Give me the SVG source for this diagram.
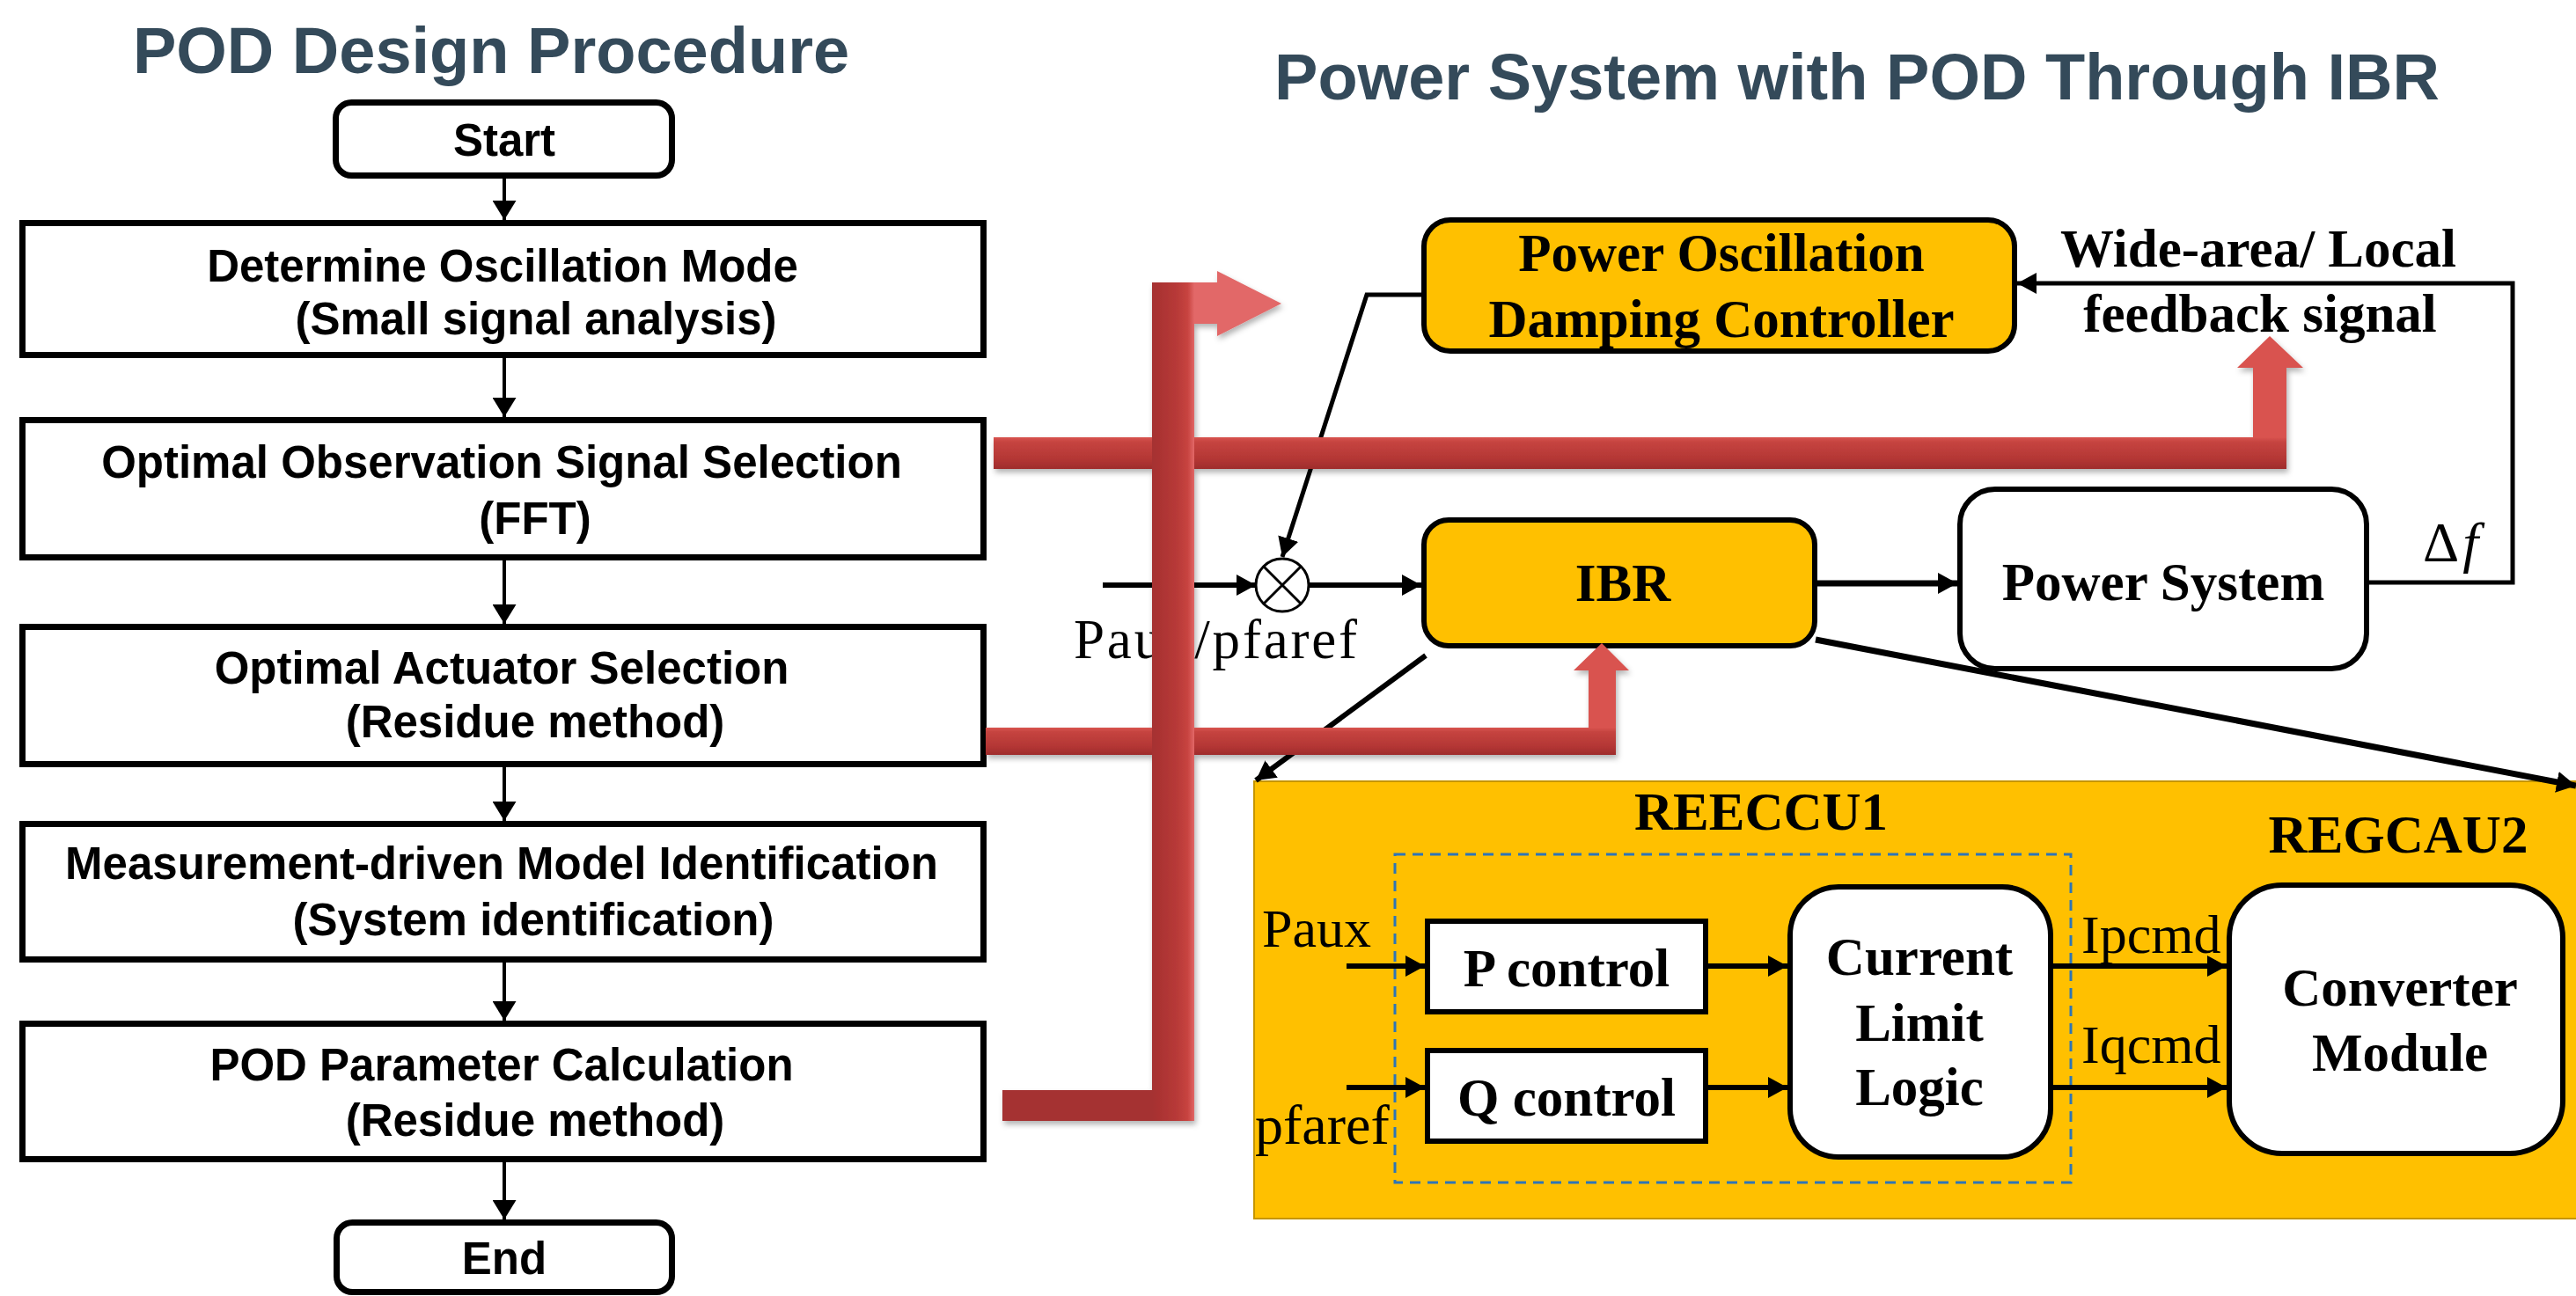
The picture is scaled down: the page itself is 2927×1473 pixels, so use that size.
<svg xmlns="http://www.w3.org/2000/svg" width="2927" height="1473" viewBox="0 0 2927 1473">
<defs>
<style>
.title{font-family:"Liberation Sans",Arial,sans-serif;font-weight:bold;font-size:74px;fill:#344A5A;text-anchor:middle}
.fc{font-family:"Liberation Sans",Arial,sans-serif;font-weight:bold;font-size:51px;fill:#000;text-anchor:middle}
.box{fill:#fff;stroke:#000;stroke-width:7}
.tb{font-family:"Liberation Serif","Times New Roman",serif;font-weight:bold;font-size:61px;fill:#000;text-anchor:middle}
.tr{font-family:"Liberation Serif","Times New Roman",serif;font-size:63px;fill:#000}
.ora{fill:#FFC000;stroke:#000;stroke-width:6}
.wht{fill:#fff;stroke:#000;stroke-width:6}
.ln{fill:none;stroke:#000;stroke-width:4}
.ln6{fill:none;stroke:#000;stroke-width:6}
.ln7{fill:none;stroke:#000;stroke-width:7}
</style>
<marker id="ahF" viewBox="0 0 22 27" refX="22" refY="13.5" markerWidth="22" markerHeight="27" orient="auto" markerUnits="userSpaceOnUse"><path d="M0,0 L22,13.5 L0,27 z" fill="#000"/></marker>
<marker id="ah" viewBox="0 0 22 24" refX="22" refY="12" markerWidth="22" markerHeight="24" orient="auto" markerUnits="userSpaceOnUse"><path d="M0,0 L22,12 L0,24 z" fill="#000"/></marker>
<linearGradient id="g1" gradientUnits="userSpaceOnUse" x1="0" y1="497" x2="0" y2="533"><stop offset="0" stop-color="#D9534F"/><stop offset="0.15" stop-color="#C64440"/><stop offset="0.7" stop-color="#B33634"/><stop offset="1" stop-color="#9E2C2C"/></linearGradient>
<linearGradient id="g2" gradientUnits="userSpaceOnUse" x1="0" y1="827" x2="0" y2="858"><stop offset="0" stop-color="#D9534F"/><stop offset="0.15" stop-color="#C64440"/><stop offset="0.7" stop-color="#B33634"/><stop offset="1" stop-color="#9E2C2C"/></linearGradient>
<linearGradient id="g3" gradientUnits="userSpaceOnUse" x1="1309" y1="0" x2="1357" y2="0"><stop offset="0" stop-color="#A53030"/><stop offset="0.6" stop-color="#B83A38"/><stop offset="0.85" stop-color="#C84440"/><stop offset="1" stop-color="#E26868"/></linearGradient>
<filter id="sh" x="-5%" y="-5%" width="110%" height="120%"><feDropShadow dx="2" dy="4" stdDeviation="3" flood-color="#000" flood-opacity="0.3"/></filter>
</defs>
<rect width="2927" height="1473" fill="#fff"/>

<text class="title" x="558" y="83">POD Design Procedure</text>
<text class="title" x="2110" y="113">Power System with POD Through IBR</text>

<g id="start"><rect class="box" x="381.5" y="116.5" width="382" height="83" rx="18"/><text class="fc" x="573" y="177">Start</text></g>
<g id="determine"><rect class="box" x="25.5" y="253.5" width="1092" height="150"/><text class="fc" x="571" y="320">Determine Oscillation Mode</text><text class="fc" x="609" y="380">(Small signal analysis)</text></g>
<g id="observation"><rect class="box" x="25.5" y="477.5" width="1092" height="156"/><text class="fc" x="570" y="543">Optimal Observation Signal Selection</text><text class="fc" x="608" y="607">(FFT)</text></g>
<g id="actuator"><rect class="box" x="25.5" y="712.5" width="1092" height="156"/><text class="fc" x="570" y="777">Optimal Actuator Selection</text><text class="fc" x="608" y="838">(Residue method)</text></g>
<g id="identification"><rect class="box" x="25.5" y="936.5" width="1092" height="154"/><text class="fc" x="570" y="999">Measurement-driven Model Identification</text><text class="fc" x="606" y="1063">(System identification)</text></g>
<g id="parameter"><rect class="box" x="25.5" y="1163.5" width="1092" height="154"/><text class="fc" x="570" y="1228">POD Parameter Calculation</text><text class="fc" x="608" y="1291">(Residue method)</text></g>
<g id="end"><rect class="box" x="382.5" y="1389.5" width="381" height="79" rx="18"/><text class="fc" x="573" y="1448">End</text></g>

<g id="podc"><rect class="ora" x="1618" y="250" width="671" height="149" rx="30"/><text class="tb" x="1956" y="308">Power Oscillation</text><text class="tb" x="1956" y="383">Damping Controller</text></g>
<text class="tb" x="2566" y="303">Wide-area/ Local</text>
<text class="tb" x="2568" y="377">feedback signal</text>
<g id="ibr"><rect class="ora" x="1618" y="591" width="444" height="143" rx="28"/><text class="tb" x="1844" y="683">IBR</text></g>
<g id="powersys"><rect class="wht" x="2227" y="556" width="462" height="204" rx="40"/><text class="tb" x="2458" y="682">Power System</text></g>
<g id="sum"><circle cx="1457" cy="665" r="30" fill="#fff" stroke="#000" stroke-width="3"/><path d="M1436,644 L1478,686 M1478,644 L1436,686" stroke="#000" stroke-width="3"/></g>
<text class="tr" x="1220" y="748" textLength="322">Paux/pfaref</text>
<text class="tr" x="2753" y="638" style="font-size:64px">Δ<tspan font-style="italic" dx="4">f</tspan></text>

<g id="models">
<rect x="1425" y="888" width="1510" height="497" fill="#FFC000" stroke="#C69500" stroke-width="2"/>
<text class="tb" x="2001" y="943">REECCU1</text>
<text class="tb" x="2725" y="969">REGCAU2</text>
<rect x="1585" y="971" width="768" height="373" fill="none" stroke="#2E75B6" stroke-width="3" stroke-dasharray="12 8"/>
<g id="pctrl"><rect class="wht" x="1622" y="1047" width="316" height="103"/><text class="tb" x="1780" y="1121">P control</text></g>
<g id="qctrl"><rect class="wht" x="1622" y="1194" width="316" height="103"/><text class="tb" x="1780" y="1268">Q control</text></g>
<g id="cll"><rect class="wht" x="2034" y="1008" width="296" height="307" rx="55"/><text class="tb" x="2181" y="1108">Current</text><text class="tb" x="2181" y="1183">Limit</text><text class="tb" x="2181" y="1256">Logic</text></g>
<g id="conv"><rect class="wht" x="2533" y="1006" width="379" height="305" rx="60"/><text class="tb" x="2727" y="1143">Converter</text><text class="tb" x="2727" y="1217">Module</text></g>
<text class="tr" x="1434" y="1076" style="font-size:62px">Paux</text>
<text class="tr" x="1426" y="1300" style="font-size:64px">pfaref</text>
<text class="tr" x="2365" y="1083" style="font-size:62px">Ipcmd</text>
<text class="tr" x="2365" y="1208" style="font-size:62px">Iqcmd</text>
</g>

<g id="connectors">
<line class="ln" x1="573" y1="203" x2="573" y2="250" marker-end="url(#ahF)"/>
<line class="ln" x1="573" y1="407" x2="573" y2="474" marker-end="url(#ahF)"/>
<line class="ln" x1="573" y1="637" x2="573" y2="709" marker-end="url(#ahF)"/>
<line class="ln" x1="573" y1="872" x2="573" y2="933" marker-end="url(#ahF)"/>
<line class="ln" x1="573" y1="1094" x2="573" y2="1160" marker-end="url(#ahF)"/>
<line class="ln" x1="573" y1="1321" x2="573" y2="1386" marker-end="url(#ahF)"/>

<polyline class="ln" style="stroke-width:5" points="2689,662 2855,662 2855,322 2292,322" marker-end="url(#ah)"/>
<polyline class="ln" style="stroke-width:5" points="1618,335 1553,335 1457,633" marker-end="url(#ah)"/>
<line class="ln6" x1="1253" y1="665" x2="1427" y2="665" marker-end="url(#ah)"/>
<line class="ln6" x1="1487" y1="665" x2="1615" y2="665" marker-end="url(#ah)"/>
<line class="ln7" x1="2065" y1="663" x2="2224" y2="663" marker-end="url(#ah)"/>
<line class="ln6" x1="1620" y1="745" x2="1427" y2="887" marker-end="url(#ah)"/>
<line class="ln7" x1="2063" y1="727" x2="2927" y2="893" marker-end="url(#ah)"/>
<line class="ln6" x1="1530" y1="1098" x2="1619" y2="1098" marker-end="url(#ah)"/>
<line class="ln6" x1="1530" y1="1236" x2="1619" y2="1236" marker-end="url(#ah)"/>
<line class="ln6" x1="1941" y1="1098" x2="2031" y2="1098" marker-end="url(#ah)"/>
<line class="ln6" x1="1941" y1="1236" x2="2031" y2="1236" marker-end="url(#ah)"/>
<line class="ln6" x1="2333" y1="1098" x2="2530" y2="1098" marker-end="url(#ah)"/>
<line class="ln6" x1="2333" y1="1236" x2="2530" y2="1236" marker-end="url(#ah)"/>

<g filter="url(#sh)">
<path d="M1129,497 L2560,497 L2560,418 L2542,418 L2579,382 L2617,418 L2598,418 L2598,533 L1129,533 Z" fill="url(#g1)"/>
<path d="M1120,827 L1805,827 L1805,762 L1788,762 L1820,731 L1851,762 L1836,762 L1836,858 L1120,858 Z" fill="url(#g2)"/>
<path d="M1139,1239 L1309,1239 L1309,321 L1383,321 L1383,308 L1456,345 L1383,382 L1383,368 L1357,368 L1357,1274 L1139,1274 Z" fill="url(#g3)"/>
</g>
</g>
</svg>
